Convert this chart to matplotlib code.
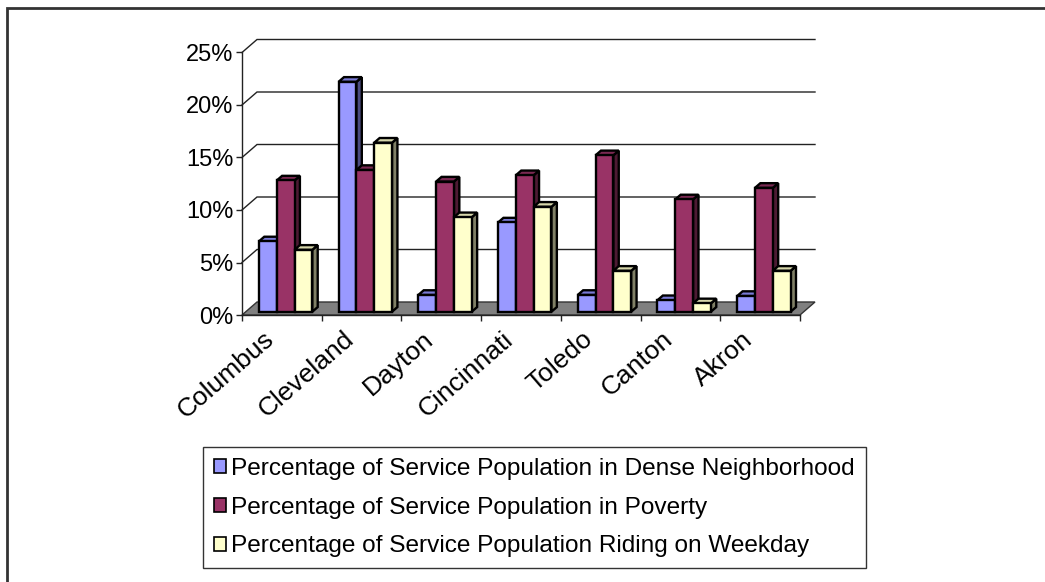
import matplotlib
matplotlib.use("Agg")
import matplotlib.pyplot as plt
from matplotlib.patches import Polygon, Patch
from matplotlib.lines import Line2D
from matplotlib.ticker import FixedLocator, FuncFormatter, NullFormatter
from matplotlib.transforms import ScaledTranslation

# ---- data -------------------------------------------------------------
cities = ["Columbus", "Cleveland", "Dayton", "Cincinnati", "Toledo", "Canton", "Akron"]
dense = [6.7, 21.9, 1.6, 8.5, 1.6, 1.1, 1.5]
poverty = [12.5, 13.5, 12.4, 13.0, 14.9, 10.7, 11.8]
riding = [5.9, 16.1, 9.0, 10.0, 3.9, 0.8, 3.9]
series_names = [
    "Percentage of Service Population in Dense Neighborhood",
    "Percentage of Service Population in Poverty",
    "Percentage of Service Population Riding on Weekday",
]
y_ticks = [0, 5, 10, 15, 20, 25]

# ---- style ------------------------------------------------------------
front_colors = ["#9999FF", "#993366", "#FFFFCC"]
top_colors = ["#7A7AD6", "#7A2952", "#D6D6AA"]
side_colors = ["#4C4C80", "#4D1A33", "#808066"]
FONT = "Liberation Sans"
plt.rcParams["font.family"] = [FONT, "DejaVu Sans"]

W, H = 1045, 582
fig = plt.figure(figsize=(W / 100, H / 100), dpi=100)
fig.patch.set_facecolor("white")

# front plane of the plot: x 0..7 categories, y 0..25 percent
x0px, x1px, y0px, y1px = 242, 800, 315, 52.5
ax = fig.add_axes([x0px / W, 1 - y0px / H, (x1px - x0px) / W, (y0px - y1px) / H])
n = len(cities)
ax.set_xlim(0, n)
ax.set_ylim(0, 25)
ax.patch.set_alpha(0)

px_x = (x1px - x0px) / n          # pixels per category
px_y = (y0px - y1px) / 25.0       # pixels per percent
wall_dx = 15 / px_x               # depth offset of the back wall (data units)
wall_dy = 13 / px_y

# floor
floor = Polygon([(0, 0), (n, 0), (n + wall_dx, wall_dy), (wall_dx, wall_dy)],
                closed=True, facecolor="#808080", edgecolor="#333333", lw=1.0,
                clip_on=False, zorder=1)
ax.add_patch(floor)

# gridlines on the back wall, joined to the front axis by a short diagonal
for t in y_ticks[1:]:
    ax.plot([0, wall_dx, n + wall_dx], [t, t + wall_dy, t + wall_dy],
            color="#222222", lw=1.0, clip_on=False, zorder=0.5,
            solid_joinstyle="miter")

# 3D-look clustered columns
group_w = 0.67
bw = group_w / 3
f_front = 0.25                    # bar front plane as a fraction of depth
f_depth = 0.36                    # bar depth as a fraction of depth
sx, sy = f_front * wall_dx, f_front * wall_dy
ddx, ddy = f_depth * wall_dx, f_depth * wall_dy
all_series = [dense, poverty, riding]
z = 2
for i in range(n):
    for s, vals in enumerate(all_series):
        v = vals[i]
        xl = i + 0.5 - group_w / 2 + s * bw + sx
        xr = xl + bw
        yb = sy
        yt = sy + v
        side = Polygon([(xr, yb), (xr, yt), (xr + ddx, yt + ddy), (xr + ddx, yb + ddy)],
                       closed=True, facecolor=side_colors[s], edgecolor="black",
                       lw=1.7, joinstyle="miter", zorder=z)
        top = Polygon([(xl, yt), (xr, yt), (xr + ddx, yt + ddy), (xl + ddx, yt + ddy)],
                      closed=True, facecolor=top_colors[s], edgecolor="black",
                      lw=1.7, joinstyle="miter", zorder=z)
        ax.add_patch(side)
        ax.add_patch(top)
        ax.bar(xl, v, width=bw, bottom=yb, align="edge", color=front_colors[s],
               edgecolor="black", linewidth=1.7, zorder=z + 0.5)
        z += 1

# axes lines and ticks
for name in ("top", "right"):
    ax.spines[name].set_visible(False)
for name in ("left", "bottom"):
    ax.spines[name].set_color("#222222")
    ax.spines[name].set_linewidth(1.0)
    ax.spines[name].set_zorder(100)

ax.yaxis.set_major_locator(FixedLocator(y_ticks))
ax.yaxis.set_major_formatter(FuncFormatter(lambda v, p: f"{int(v)}%"))
ax.tick_params(axis="y", direction="out", length=4.5, width=1.0, color="#222222",
               labelsize=17, pad=1.5)

ax.xaxis.set_major_locator(FixedLocator(range(n + 1)))
ax.xaxis.set_major_formatter(NullFormatter())
ax.tick_params(axis="x", which="major", direction="out", length=4.5, width=1.0,
               color="#222222")

# slanted category names under each group
label_shift = ScaledTranslation(-19 / 100, -12 / 100, fig.dpi_scale_trans)
for i, city in enumerate(cities):
    ax.text(i + 0.5, 0, city, transform=ax.transData + label_shift,
            rotation=41, rotation_mode="anchor", ha="right", va="top",
            fontsize=19, clip_on=False)

# legend
handles = [Patch(facecolor=c, edgecolor="black", lw=1.2) for c in front_colors]
leg = fig.legend(handles, series_names, loc="upper left",
                 bbox_to_anchor=(203 / W, 1 - 447 / H), fontsize=17.6,
                 frameon=True, fancybox=False, handlelength=0.5, handleheight=0.5,
                 handletextpad=0.2, labelspacing=0.68, borderpad=0.45,
                 borderaxespad=0)
leg.get_frame().set_edgecolor("black")
leg.get_frame().set_linewidth(1.0)

# chart area border
fig.add_artist(Line2D([7 / W, 7 / W, 1.0], [0.0, 1 - 8 / H, 1 - 8 / H],
                      transform=fig.transFigure, color="#333333", lw=2.0,
                      solid_joinstyle="miter"))

fig.savefig("out.png", dpi=100)
